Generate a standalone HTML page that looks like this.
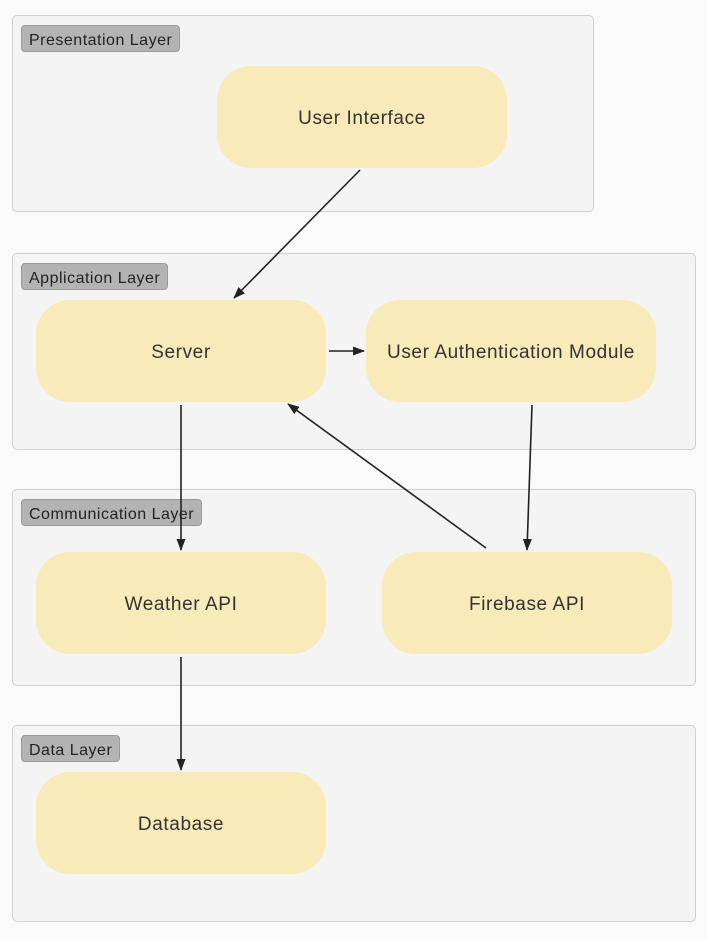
<!DOCTYPE html>
<html><head><style>
body{margin:0;background:#fafafa;width:707px;height:940px;position:relative;font-family:"Liberation Sans",sans-serif;overflow:hidden}
.g{position:absolute;background:#f4f4f4;border:1px solid #cfcfcf;border-radius:5px;box-sizing:border-box}
.l{position:absolute;background:#b3b3b3;border:1px solid #999;border-radius:4px;font-size:16px;letter-spacing:0.5px;color:#222;padding:0 7px;height:27px;line-height:29px;box-sizing:border-box;white-space:nowrap}
.n{position:absolute;background:#f8eab9;border-radius:34px;display:flex;align-items:center;justify-content:center;font-size:19px;letter-spacing:0.6px;color:#333;width:290px;height:102px;padding-top:4px;box-sizing:border-box}
svg{position:absolute;left:0;top:0}
</style></head><body>
<div class="g" style="left:12px;top:15px;width:582px;height:197px"></div>
<div class="l" style="left:21px;top:25px">Presentation Layer</div>
<div class="g" style="left:12px;top:253px;width:684px;height:197px"></div>
<div class="l" style="left:21px;top:263px">Application Layer</div>
<div class="g" style="left:12px;top:489px;width:684px;height:197px"></div>
<div class="l" style="left:21px;top:499px">Communication Layer</div>
<div class="g" style="left:12px;top:725px;width:684px;height:197px"></div>
<div class="l" style="left:21px;top:735px">Data Layer</div>
<div class="n" style="left:217px;top:66px">User Interface</div>
<div class="n" style="left:36px;top:300px">Server</div>
<div class="n" style="left:366px;top:300px">User Authentication Module</div>
<div class="n" style="left:36px;top:552px">Weather API</div>
<div class="n" style="left:382px;top:552px">Firebase API</div>
<div class="n" style="left:36px;top:772px">Database</div>
<svg width="707" height="940">
<defs><marker id="a" markerWidth="12" markerHeight="12" refX="11" refY="6" orient="auto" markerUnits="userSpaceOnUse"><path d="M0,1.5 L12,6 L0,10.5 z" fill="#222"/></marker></defs>
<g stroke="#222" stroke-width="1.6" fill="none" marker-end="url(#a)">
<line x1="360" y1="170" x2="234" y2="298"/>
<line x1="329" y1="351" x2="364" y2="351"/>
<line x1="181" y1="405" x2="181" y2="550"/>
<line x1="532" y1="405" x2="527" y2="550"/>
<line x1="486" y1="548" x2="288" y2="404"/>
<line x1="181" y1="657" x2="181" y2="770"/>
</g></svg>
</body></html>
